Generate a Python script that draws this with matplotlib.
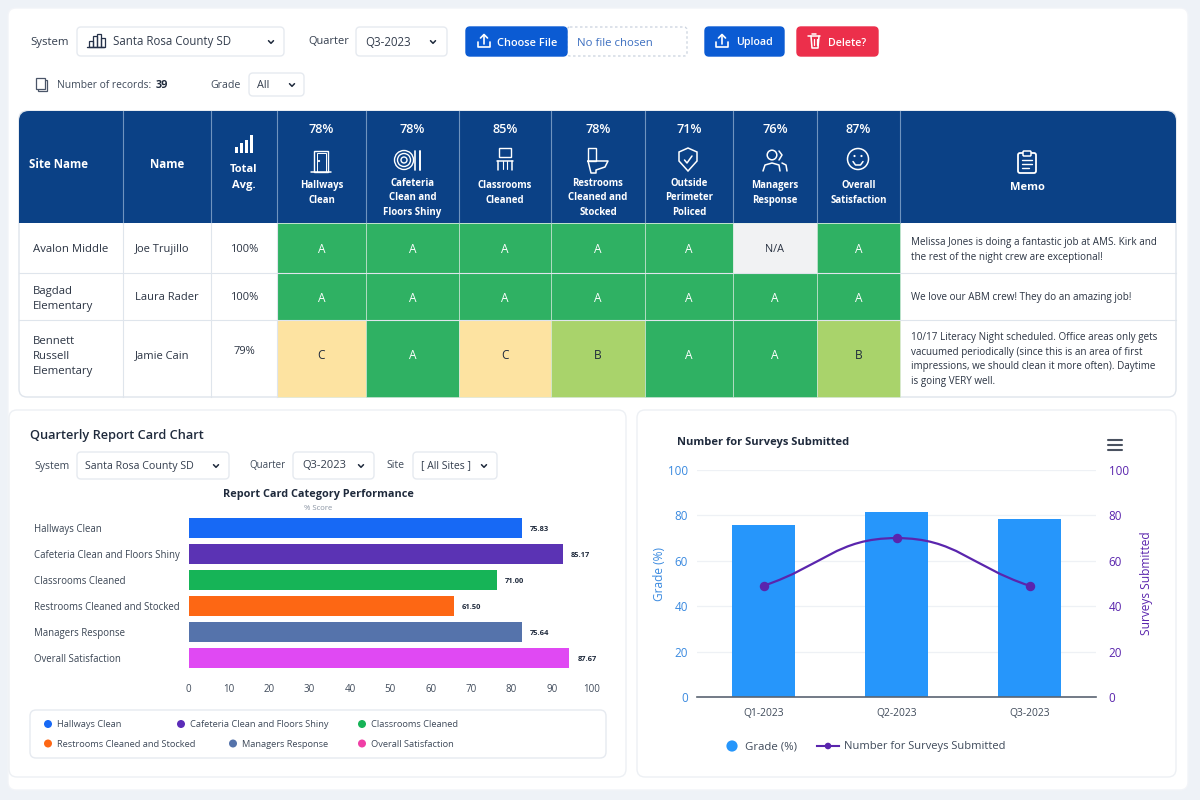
import matplotlib
matplotlib.use("Agg")
import matplotlib.pyplot as plt
from matplotlib.patches import FancyBboxPatch, Rectangle, Circle, Polygon, PathPatch
from matplotlib.path import Path

plt.rcParams['font.family'] = ['Open Sans', 'DejaVu Sans']

# ---- data ----
col_pcts = ["78%", "78%", "85%", "78%", "71%", "76%", "87%"]
col_titles = ["Hallways\nClean", "Cafeteria\nClean and\nFloors Shiny", "Classrooms\nCleaned",
              "Restrooms\nCleaned and\nStocked", "Outside\nPerimeter\nPoliced", "Managers\nResponse",
              "Overall\nSatisfaction"]
sites = ["Avalon Middle", "Bagdad\nElementary", "Bennett\nRussell\nElementary"]
people = ["Joe Trujillo", "Laura Rader", "Jamie Cain"]
totals = ["100%", "100%", "79%"]
grades = [["A", "A", "A", "A", "A", "N/A", "A"],
          ["A", "A", "A", "A", "A", "A", "A"],
          ["C", "A", "C", "B", "A", "A", "B"]]
memos = ["Melissa Jones is doing a fantastic job at AMS. Kirk and\nthe rest of the night crew are exceptional!",
         "We love our ABM crew! They do an amazing job!",
         "10/17 Literacy Night scheduled. Office areas only gets\nvacuumed periodically (since this is an area of first\nimpressions, we should clean it more often). Daytime\nis going VERY well."]
categories = ["Hallways Clean", "Cafeteria Clean and Floors Shiny", "Classrooms Cleaned",
              "Restrooms Cleaned and Stocked", "Managers Response", "Overall Satisfaction"]
bar_lengths = [82.7, 92.7, 76.4, 65.8, 82.7, 94.4]
bar_labels = ["75.83", "85.17", "71.00", "61.50", "75.64", "87.67"]
bar_colors = ["#1769f5", "#5b33b4", "#16b457", "#fd6714", "#5573ab", "#e049f3"]
legend_colors = ["#1769f5", "#5b2cb8", "#16b457", "#fd6714", "#5573ab", "#f03fa6"]
quarters = ["Q1-2023", "Q2-2023", "Q3-2023"]
grade_pct = [75.7, 81.3, 78.3]
surveys = [49, 70, 49]

# ---- palette ----
NAVY = "#0b4186"; DARK = "#1f2a3c"; GREY = "#3f4a5a"; EDGE = "#e4e9f0"
BLUE = "#0b5bd3"; BAR = "#2696fb"; PURPLE = "#5a25ad"; AXBLUE = "#3a8ae0"
cell_color = {"A": "#2fb163", "B": "#a9d36b", "C": "#fde3a1", "N/A": "#f1f2f3"}
cell_text = {"A": "white", "B": "#1f2a3c", "C": "#1f2a3c", "N/A": "#2b3443"}

fig = plt.figure(figsize=(12, 8), dpi=100, facecolor="#eef2f7")
ui = fig.add_axes([0, 0, 1, 1], zorder=0)
ui.set_xlim(0, 1200); ui.set_ylim(800, 0); ui.axis("off")


def rbox(x0, y0, x1, y1, r=6, fc="white", ec=EDGE, lw=1.0, ls="-", z=1):
    p = FancyBboxPatch((x0, y0), x1 - x0, y1 - y0, boxstyle=f"round,pad=0,rounding_size={r}",
                       fc=fc, ec=ec, lw=lw, ls=ls, zorder=z)
    ui.add_patch(p)


def T(x, y, s, size=8, color=GREY, ha="left", va="center", weight="normal", z=6, **kw):
    return ui.text(x, y + 1, s, fontsize=size, color=color, ha=ha, va=va, fontweight=weight, zorder=z, **kw)


def L(xs, ys, color="white", lw=1.1, z=6):
    ui.plot(xs, ys, color=color, lw=lw, zorder=z, solid_capstyle="round", solid_joinstyle="round")


def dot(x, y, r=1.1, color="white"):
    ui.add_patch(Circle((x, y), r, fc=color, ec="none", zorder=7))


def chevron(x, y, color=DARK):
    L([x - 2.5, x, x + 2.5], [y - 1.3, y + 1.3, y - 1.3], color=color, lw=1.1)


def upload(x, y, color="white"):
    L([x, x], [y + 3, y - 6], color, 1.2)
    L([x - 3.5, x, x + 3.5], [y - 3, y - 6.5, y - 3], color, 1.2)
    L([x - 6, x - 6, x + 6, x + 6], [y + 1, y + 5.5, y + 5.5, y + 1], color, 1.2)


def select(x0, x1, y0, y1, label, tx, chev, size=8.3):
    rbox(x0, y0, x1, y1, r=4, ec="#e6eaf0")
    T(tx, (y0 + y1) / 2 - 0.5, label, size=size, color="#333d4d")
    chevron(chev, (y0 + y1) / 2 + 0.5)


# ---- page cards ----
rbox(8, 8, 1188, 790, r=8, ec="#f2f4f8", z=0.5)

# ---- top controls ----
T(30, 41, "System", 8.2, "#333d4d")
select(77, 284, 27, 56, "Santa Rosa County SD", 113, 271)
for bx, bh in ((89, 6), (93, 11), (97, 13), (101, 9)):
    ui.add_patch(Rectangle((bx, 47 - bh), 3.5, bh, fc="none", ec="#26324a", lw=0.9, zorder=6))
L([87, 104], [47, 47], "#26324a", 1.0)
T(308, 41, "Quarter", 7.9, "#333d4d")
select(356, 447, 27, 56, "Q3-2023", 365, 433)

rbox(567, 27, 687, 56, r=3, ec="#c9d2de", ls=(0, (2, 2)), lw=0.9)
rbox(466, 27, 567, 56, r=4, fc=BLUE, ec=BLUE, z=2)
upload(484, 41)
T(497, 42, "Choose File", 7.9, "white", weight="semibold")
T(577, 42, "No file chosen", 8.2, "#3c6fc0")
rbox(705, 27, 784, 56, r=4, fc=BLUE, ec=BLUE)
upload(722, 41)
T(736, 42, "Upload", 7.7, "white", weight="semibold")
rbox(797, 27, 878, 56, r=4, fc="#ec2f4b", ec="#ec2f4b")
L([808, 820], [36, 36]); L([811, 812, 818, 819], [36, 48, 48, 36]); L([812, 816], [34, 34])
L([813.5, 813.5], [39, 45], lw=0.9); L([816.5, 816.5], [39, 45], lw=0.9)
T(828, 42, "Delete?", 7.7, "white", weight="semibold")

ui.add_patch(Rectangle((38, 80), 9, 11, fc="white", ec="#4a5568", lw=0.9, zorder=6))
ui.add_patch(Rectangle((36, 78), 9, 11, fc="white", ec="#4a5568", lw=0.9, zorder=6))
T(57, 84, "Number of records:", 7.4, "#3f4a5a")
T(156, 84, "39", 7.8, DARK, weight="bold")
T(210, 84, "Grade", 7.7, "#3f4a5a")
select(249, 304, 73, 96, "All", 257, 292, size=7.8)

# ---- table ----
edges = [19, 123, 211, 277, 366, 459, 551, 645, 733, 817, 900, 1176]
row_edges = [223, 273, 320, 397]
rbox(19, 111, 1176, 397, r=8, ec="#dfe5ec", z=1)
rbox(19, 111, 1176, 180, r=10, fc=NAVY, ec="none", lw=0, z=1.5)
ui.add_patch(Rectangle((19, 150), 1157, 73, fc=NAVY, ec="none", zorder=1.7))
for x in edges[1:-1]:
    ui.plot([x, x], [111, 223], color="#6f93bf", lw=0.8, zorder=2)
T(29, 163.5, "Site Name", 8.3, "white", weight="bold")
T(167, 163.5, "Name", 8.3, "white", ha="center", weight="bold")
T(244, 176.5, "Total\nAvg.", 8.0, "white", ha="center", weight="bold", linespacing=1.6)
for bx, bh in ((235, 6), (240, 10), (245, 13), (250, 18)):
    ui.add_patch(Rectangle((bx, 153 - bh), 3.2, bh, fc="white", ec="none", zorder=6))

for j in range(7):
    cx = (edges[j + 3] + edges[j + 4]) / 2
    T(cx, 128.5, col_pcts[j], 9.2, "white", ha="center", weight="semibold")
    n = col_titles[j].count("\n") + 1
    T(cx, 192 if n == 2 else 197, col_titles[j], 6.9, "white", ha="center", weight="bold", linespacing=1.42)

# header icons, white line art
cx = 321
ui.add_patch(Rectangle((cx - 7, 151), 14, 21, fc="none", ec="white", lw=1.0, zorder=6))
ui.add_patch(Rectangle((cx - 4.5, 153), 9.5, 19, fc="none", ec="white", lw=0.7, zorder=6))
L([cx - 10, cx + 10], [172, 172]); dot(cx - 2, 161)
cx = 404
for r in (9.5, 6.5, 3):
    ui.add_patch(Circle((cx, 160), r, fc="none", ec="white", lw=1, zorder=6))
L([420, 420], [151, 170], lw=1.4); L([415, 415], [151, 170], lw=1.2)
cx = 505
ui.add_patch(Rectangle((cx - 6, 148), 12, 9, fc="none", ec="white", lw=1, zorder=6))
L([cx - 8, cx + 8], [161, 161]); L([cx - 7, cx - 7], [161, 170]); L([cx + 7, cx + 7], [161, 170])
L([cx - 2, cx - 2], [161, 169], lw=0.8); L([cx + 2, cx + 2], [161, 169], lw=0.8)
cx = 598
ui.add_patch(Rectangle((cx - 10, 148), 8, 13, fc="none", ec="white", lw=1, zorder=6))
L([cx - 10, cx + 10, cx + 7, cx - 2, cx - 2, cx - 7, cx - 10],
  [161, 161, 167, 170, 173, 173, 161])
cx = 688
ui.add_patch(Polygon([(cx - 9, 152), (cx, 148), (cx + 9, 152), (cx + 9, 161), (cx, 171), (cx - 9, 161)],
                     fc="none", ec="white", lw=1.1, zorder=6))
L([cx - 3.5, cx - 1, cx + 4], [160, 163, 156])
cx = 775
ui.add_patch(Circle((cx - 3, 155), 4.8, fc="none", ec="white", lw=1.1, zorder=6))
L([cx - 12, cx - 10, cx - 3, cx + 4, cx + 5], [171, 165, 163, 165, 171])
L([cx + 4, cx + 7, cx + 4], [151, 155, 160]); L([cx + 7, cx + 11, cx + 12], [163, 165, 171])
cx = 858
ui.add_patch(Circle((cx, 159), 10.5, fc="none", ec="white", lw=1.1, zorder=6))
dot(cx - 3.5, 156); dot(cx + 3.5, 156)
L([cx - 5, cx - 2.5, cx + 2.5, cx + 5], [161.5, 165, 165, 161.5])
cx = 1027
rbox(cx - 9, 153, cx + 9, 173, r=2, fc="none", ec="white", lw=1.3, z=6)
rbox(cx - 4, 151, cx + 4, 156, r=1, fc=NAVY, ec="white", lw=1.1, z=7)
for yy in (160, 164, 168):
    L([cx - 5, cx + 5 if yy < 168 else cx + 2], [yy, yy], lw=1)
T(cx, 187, "Memo", 8, "white", ha="center", weight="bold")

# table rows from the data
row_shift = [0.5, 0.5, -4]
site_shift = [0.5, 1.5, -3]
memo_shift = [1, 0, 0]
for i in range(3):
    y0, y1 = row_edges[i], row_edges[i + 1]
    ym = (y0 + y1) / 2
    sh = row_shift[i]
    for j, g in enumerate(grades[i]):
        x0, x1 = edges[j + 3], edges[j + 4]
        ui.add_patch(Rectangle((x0, y0), x1 - x0, y1 - y0, fc=cell_color[g], ec="#dcebe2", lw=0.4, zorder=2))
        T((x0 + x1) / 2, ym + sh, g, 8.6 if g != "N/A" else 7.8, cell_text[g], ha="center")
    T(33, ym + site_shift[i], sites[i], 8.2, "#2b3443", linespacing=1.5)
    T(135, ym + sh, people[i], 8, "#2b3443")
    T(244, ym + (sh if i < 2 else -7.5), totals[i], 8, "#2b3443", ha="center")
    T(911, ym + memo_shift[i], memos[i], 7.1, "#2b3443", linespacing=1.47)
    if i < 2:
        ui.plot([19, 1176], [y1, y1], color="#dfe5ec", lw=0.8, zorder=3)
for x in edges[1:3]:
    ui.plot([x, x], [223, 397], color="#dfe5ec", lw=0.8, zorder=2)
ui.plot([277, 277], [223, 397], color="#dfe5ec", lw=0.8, zorder=2)

# ---- left panel ----
rbox(9, 410, 626, 777, r=8, ec="#edf0f4")
T(30, 434, "Quarterly Report Card Chart", 9.2, DARK, weight="semibold")
T(34, 465, "System", 7.6, "#3f4a5a")
select(77, 229, 452, 479, "Santa Rosa County SD", 85, 216, size=7.7)
T(249, 465, "Quarter", 7.0, "#3f4a5a")
select(293, 374, 452, 479, "Q3-2023", 302, 361, size=8)
T(386, 465, "Site", 7.6, "#3f4a5a")
select(413, 497, 452, 479, "[ All Sites ]", 421, 484, size=7.5)
T(318, 493.5, "Report Card Category Performance", 7.8, DARK, ha="center", weight="bold")
T(318, 507.5, "% Score", 5.6, "#8a94a3", ha="center")

ax = fig.add_axes([188.5 / 1200, 1 - 671 / 800, (592 - 188.5) / 1200, (671 - 515) / 800], zorder=2)
ax.patch.set_alpha(0)
ypos = list(range(len(categories)))
ax.barh(ypos, bar_lengths, height=0.77, color=bar_colors, edgecolor="none")
for yy, v, s in zip(ypos, bar_lengths, bar_labels):
    ax.annotate(s, (v, yy), xytext=(5.8, -1), textcoords="offset points", fontsize=5.4, color=DARK,
                fontweight="bold", va="center")
ax.set_xlim(0, 100); ax.set_ylim(5.5, -0.5)
ax.set_yticks(ypos, [""] * len(categories))
ax.set_xticks(range(0, 101, 10))
ax.tick_params(length=0, axis="both")
ax.tick_params(axis="x", labelsize=7, labelcolor="#3f4a5a", pad=9.5)
for s in ax.spines.values():
    s.set_visible(False)
for yy, c in zip(ypos, categories):
    ax.annotate(c, (0, yy), xycoords=("axes fraction", "data"), xytext=(-154.5 * 0.72, -0.8),
                textcoords="offset points", fontsize=6.95, color="#3a4554", va="center")

rbox(30, 710, 606, 758, r=6, ec="#e6eaf0")
leg_pos = [(48, 724), (181, 724), (362, 724), (48, 743.5), (233, 743.5), (362, 743.5)]
for (lx, ly), c, col in zip(leg_pos, categories, legend_colors):
    ui.add_patch(Circle((lx, ly), 4, fc=col, ec="none", zorder=6))
    T(lx + 9, ly - 0.3, c, 6.65, "#3f4a5a")

# ---- right panel ----
rbox(637, 410, 1176, 777, r=8, ec="#edf0f4")
T(677, 441.5, "Number for Surveys Submitted", 8.0, DARK, weight="bold")
for yy in (440, 445, 450):
    L([1108, 1122], [yy, yy], "#4a5260", 1.5)

ax2 = fig.add_axes([697 / 1200, 1 - 697 / 800, (1096 - 697) / 1200, (697 - 470) / 800], zorder=2)
ax2.patch.set_alpha(0)
xs = list(range(len(quarters)))
ax2.bar(xs, grade_pct, width=0.47, color=BAR, zorder=2)
ax2.set_xlim(-0.5, 2.5); ax2.set_ylim(0, 100)
ax2.set_xticks(xs, quarters)
ax2.set_yticks(range(0, 101, 20))
ax2.grid(axis="y", color="#eef1f5", lw=0.9, zorder=0)
ax2.set_axisbelow(True)
ax2.tick_params(length=0)
ax2.tick_params(axis="x", labelsize=7.4, labelcolor="#3f4a5a", pad=8)
ax2.tick_params(axis="y", labelsize=8.4, labelcolor=AXBLUE, pad=6.5)
for k, s in ax2.spines.items():
    s.set_visible(k == "bottom")
ax2.spines["bottom"].set_color("#5a6472"); ax2.spines["bottom"].set_linewidth(1.2)
ax2.set_ylabel("Grade (%)", color=AXBLUE, fontsize=8.6, labelpad=1, y=0.54)

ax3 = ax2.twinx()
ax3.set_zorder(3); ax3.patch.set_alpha(0)
ax3.set_ylim(0, 100); ax3.set_yticks(range(0, 101, 20))
ax3.tick_params(length=0, labelsize=8.4, labelcolor=PURPLE, pad=9)
for s in ax3.spines.values():
    s.set_visible(False)
ax3.set_ylabel("Surveys Submitted", color=PURPLE, fontsize=8.6, labelpad=8.5)
verts = [(xs[0], surveys[0])]
codes = [Path.MOVETO]
for a in range(len(xs) - 1):
    verts += [(xs[a] + 0.45, surveys[a] + (surveys[a + 1] - surveys[a]) * (0.42 if a == 0 else 0.0)),
              (xs[a + 1] - 0.45, surveys[a + 1] - (surveys[a + 1] - surveys[a]) * (0.0 if a == 0 else 0.42)),
              (xs[a + 1], surveys[a + 1])]
    codes += [Path.CURVE4] * 3
ax3.add_patch(PathPatch(Path(verts, codes), fc="none", ec=PURPLE, lw=1.6))
ax3.plot(xs, surveys, ls="none", marker="o", ms=5.8, color=PURPLE)

ui.add_patch(Circle((732, 746), 5.6, fc=BAR, ec="none", zorder=6))
T(745, 746, "Grade (%)", 8.2, "#3f4a5a")
ui.plot([817, 839], [746, 746], color=PURPLE, lw=1.5, zorder=6)
ui.add_patch(Circle((828, 746), 3.3, fc=PURPLE, ec="none", zorder=7))
T(844, 746, "Number for Surveys Submitted", 8.0, "#3f4a5a")

fig.savefig("out.png", dpi=100, facecolor=fig.get_facecolor())
